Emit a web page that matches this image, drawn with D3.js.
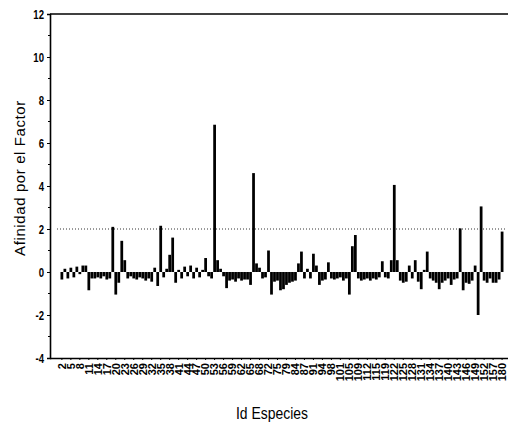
<!DOCTYPE html>
<html>
<head>
<meta charset="utf-8">
<script src="https://cdn.jsdelivr.net/npm/d3@7"></script>
<style>
  html, body { margin: 0; padding: 0; background: #fff; }
  svg { display: block; }
</style>
</head>
<body>
<svg id="chart" width="508" height="425"></svg>
<script>
// Species identifiers along the x axis (one bar per species)
const speciesIds = [
  2, 3, 4, 5, 6, 7, 8, 9, 10, 11, 12, 13, 14, 15, 16, 17, 18, 19, 20, 21,
  22, 23, 24, 25, 26, 27, 28, 29, 30, 31, 32, 33, 34, 35, 36, 37, 38, 39, 40, 41,
  42, 43, 44, 45, 46, 47, 48, 49, 50, 51, 52, 53, 54, 55, 56, 57, 58, 59, 60, 61,
  62, 63, 64, 65, 66, 67, 68, 69, 70, 72, 73, 74, 75, 76, 77, 79, 81, 82, 84, 85,
  86, 87, 88, 90, 91, 92, 93, 94, 95, 96, 98, 99, 100, 101, 102, 103, 105, 106, 107, 109,
  110, 111, 112, 113, 114, 115, 116, 117, 119, 120, 121, 122, 123, 124, 125, 126, 127, 128, 129, 130,
  131, 132, 133, 134, 135, 136, 137, 138, 139, 140, 141, 142, 143, 144, 145, 146, 147, 148, 149, 150,
  151, 152, 153, 155, 157, 159, 170, 180
];

// Affinity of each species for the factor
const affinity = [
  -0.35, 0.15, -0.3, 0.2, -0.25, 0.25, -0.1, 0.3, 0.3, -0.85,
  -0.3, -0.3, -0.25, -0.3, -0.2, -0.35, -0.3, 2.1, -1.05, -0.5,
  1.45, 0.55, -0.3, -0.2, -0.3, -0.35, -0.25, -0.3, -0.4, -0.3,
  -0.45, 0.2, -0.65, 2.15, -0.25, 0.15, 0.8, 1.6, -0.5, 0.1,
  -0.3, 0.25, -0.2, 0.3, -0.3, 0.2, -0.25, 0.1, 0.65, -0.2,
  -0.3, 6.85, 0.55, 0.15, -0.2, -0.75, -0.4, -0.35, -0.45, -0.3,
  -0.4, -0.35, -0.35, -0.6, 4.6, 0.4, 0.2, -0.3, -0.25, 1.0,
  -1.05, -0.45, -0.4, -0.85, -0.8, -0.6, -0.5, -0.45, -0.4, 0.4,
  0.95, -0.3, 0.15, -0.3, 0.85, 0.3, -0.6, -0.4, -0.35, 0.45,
  -0.3, -0.35, -0.3, -0.25, -0.4, -0.3, -1.05, 1.2, 1.72, -0.3,
  -0.4, -0.35, -0.3, -0.4, -0.3, -0.35, -0.25, 0.5, -0.25, -0.3,
  0.55, 4.05, 0.55, -0.4, -0.5, -0.45, 0.3, -0.3, 0.55, -0.45,
  -0.8, 0.1, 0.95, -0.3, -0.4, -0.5, -0.8, -0.5, -0.4, -0.3,
  -0.6, -0.35, -0.3, 2.03, -0.85, -0.5, -0.55, -0.4, 0.3, -2.0,
  3.05, -0.4, -0.5, -0.3, -0.5, -0.5, -0.35, 1.88
];

// Species labelled on the axis (every third one)
const labelledIds = [
  2, 5, 8, 11, 14, 17, 20, 23, 26, 29, 32, 35, 38, 41, 44, 47, 50, 53, 56, 59,
  62, 65, 68, 72, 75, 79, 84, 87, 91, 94, 98, 101, 105, 109, 112, 115, 119, 122, 125, 128,
  131, 134, 137, 140, 143, 146, 149, 152, 157, 180
];

const yTicks = [-4, -2, 0, 2, 4, 6, 8, 10, 12];
const threshold = 2;

const svg = d3.select("#chart");
const plotLeft = 50, plotRight = 508, plotTop = 14, plotBottom = 358;

const x = d3.scaleBand()
  .domain(speciesIds)
  .range([60.5, 60.5 + speciesIds.length * 2.993])
  .paddingInner(0.08)
  .paddingOuter(0);

const y = d3.scaleLinear().domain([-4, 12]).range([plotBottom, plotTop]);

const sans = "'Liberation Sans', Arial, sans-serif";

// Frame: top edge
svg.append("line")
  .attr("x1", plotLeft).attr("x2", plotRight)
  .attr("y1", plotTop).attr("y2", plotTop)
  .attr("stroke", "#000").attr("stroke-width", 1.6);

// Y axis
const yAxis = svg.append("g")
  .attr("transform", `translate(${plotLeft},0)`)
  .call(d3.axisLeft(y).tickValues(yTicks).tickSize(3).tickFormat(d3.format("d")));
yAxis.select(".domain").attr("stroke-width", 1.6);
yAxis.selectAll(".tick text")
  .attr("font-family", sans)
  .attr("font-weight", "bold")
  .attr("font-size", 12)
  .attr("x", 0)
  .attr("dy", "0.35em")
  .attr("text-anchor", "end")
  .attr("transform", "translate(-6,0) scale(0.8,1)")
  .text(d => String(d));

// Minor ticks on the y axis
svg.append("g")
  .selectAll("line")
  .data(d3.range(-4, 12.01, 1).filter(v => !yTicks.includes(v)))
  .join("line")
  .attr("x1", plotLeft - 2).attr("x2", plotLeft)
  .attr("y1", d => y(d)).attr("y2", d => y(d))
  .attr("stroke", "#000");

// X axis
const xAxis = svg.append("g")
  .attr("transform", `translate(0,${plotBottom})`)
  .call(d3.axisBottom(x).tickValues(labelledIds).tickSize(2).tickSizeOuter(0));
xAxis.select(".domain")
  .attr("d", `M${plotLeft},0.5H${plotRight}`)
  .attr("stroke-width", 1.6);
xAxis.selectAll(".tick text")
  .attr("font-family", sans)
  .attr("font-weight", "bold")
  .attr("font-size", 11)
  .attr("transform", "rotate(-90)")
  .attr("text-anchor", "end")
  .attr("dy", "0.35em")
  .attr("x", -5)
  .attr("y", 0);

// Threshold reference line
svg.append("line")
  .attr("x1", 57).attr("x2", 506)
  .attr("y1", y(threshold)).attr("y2", y(threshold))
  .attr("stroke", "#333")
  .attr("stroke-width", 1)
  .attr("stroke-dasharray", "1,2");

// Bars
svg.append("g")
  .selectAll("rect")
  .data(speciesIds.map((id, i) => ({ id, v: affinity[i] })))
  .join("rect")
  .attr("x", d => x(d.id))
  .attr("width", x.bandwidth())
  .attr("y", d => y(Math.max(0, d.v)))
  .attr("height", d => Math.abs(y(d.v) - y(0)))
  .attr("fill", "#000");

// Axis titles
svg.append("text")
  .attr("transform", `translate(25,178) rotate(-90)`)
  .attr("text-anchor", "middle")
  .attr("font-family", sans)
  .attr("font-size", 15)
  .attr("letter-spacing", 0.6)
  .text("Afinidad por el Factor");

svg.append("text")
  .attr("transform", "translate(272,419) scale(0.82,1)")
  .attr("text-anchor", "middle")
  .attr("font-family", sans)
  .attr("font-size", 17)
  .text("Id Especies");
</script>
</body>
</html>
